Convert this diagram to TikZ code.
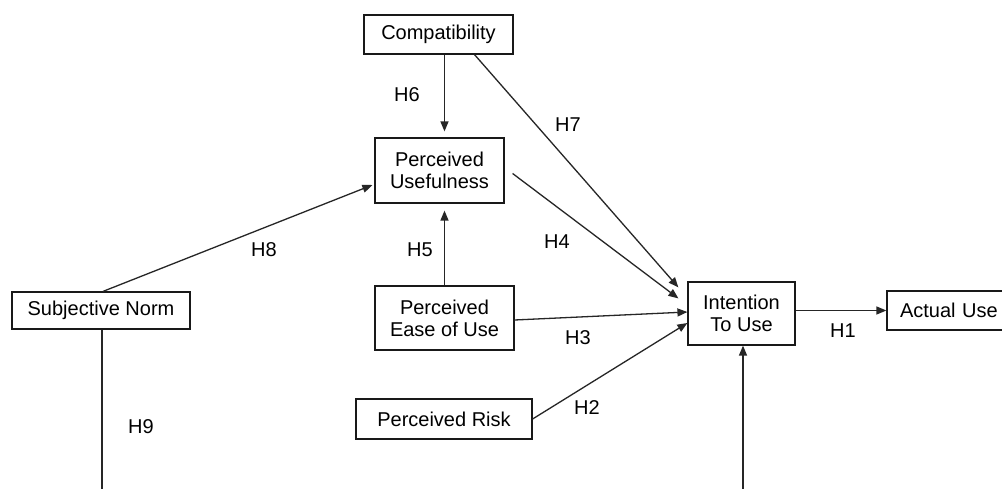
\documentclass[tikz,border=0pt]{standalone}
\usepackage{fontspec}
\setmainfont{Liberation Sans}
\usetikzlibrary{arrows.meta}
\begin{document}
\begin{tikzpicture}[x=1pt,y=-1pt,
  box/.style={draw=black!90, line width=1.2pt, fill=white, inner sep=0pt, align=center,
    font=\fontsize{20}{22}\selectfont},
  lab/.style={inner sep=0pt, font=\fontsize{20}{22}\selectfont},
  arr/.style={draw=black!85, line width=1.3pt, -{Triangle[length=10pt,width=8pt]}},
  ln/.style={draw=black!85, line width=1.3pt}]
\useasboundingbox (0,0) rectangle (1002,489);
\clip (0,0) rectangle (1002,489);
\fill[white] (0,0) rectangle (1002,489);
% nodes
\node[box, minimum width=149pt, minimum height=39pt] (comp) at (438.5,34.5) {Compatibility};
\node[box, minimum width=129pt, minimum height=65pt] (pu) at (439.5,170.5) {Perceived\\Usefulness};
\node[box, minimum width=178pt, minimum height=37pt] (sn) at (101,310.5) {Subjective Norm};
\node[box, minimum width=139pt, minimum height=64pt] (peou) at (444.5,318) {Perceived\\Ease of Use};
\node[box, minimum width=107pt, minimum height=63pt] (itu) at (741.5,313.5) {Intention\\To Use};
\node[box, minimum width=125pt, minimum height=39pt, text width=99pt, align=left] (au) at (949.5,310.5) {Actual Use};
\node[box, minimum width=176pt, minimum height=40pt] (pr) at (444,419) {Perceived Risk};
% connectors
\draw[arr, shorten >=6pt] (comp.south -| peou.north) -- (pu.north -| peou.north);
\draw[arr, shorten >=7pt] (peou.north) -- (pu.south -| peou.north);
\draw[arr] ([xshift=36pt]comp.south) -- ([shift={(-9,6)}]itu.north west);
\draw[arr] ([shift={(8,3)}]pu.east) -- ([shift={(-9,17)}]itu.north west);
\draw[arr] ([shift={(0,2)}]peou.east) -- ([shift={(0,-1.5)}]itu.west);
\draw[arr] (pr.east) -- ([shift={(0,9.5)}]itu.west);
\draw[arr] ([shift={(2,0)}]sn.north) -- ([shift={(-2,14.5)}]pu.west);
\draw[arr] (itu.east |- au.west) -- (au.west);
\draw[arr] ([xshift=1pt]sn.south) -- ++(0,180) -| ([xshift=1.5pt]itu.south);
% labels
\node[lab] (l1) at (843,331) {H1};
\node[lab] (l2) at (587,408) {H2};
\node[lab] (l3) at (578,338) {H3};
\node[lab] (l4) at (557,242) {H4};
\node[lab] (l5) at (420,250) {H5};
\node[lab] (l6) at (407,95) {H6};
\node[lab] (l7) at (568,125) {H7};
\node[lab] (l8) at (264,250) {H8};
\node[lab] (l9) at (141,427) {H9};
\end{tikzpicture}
\end{document}
